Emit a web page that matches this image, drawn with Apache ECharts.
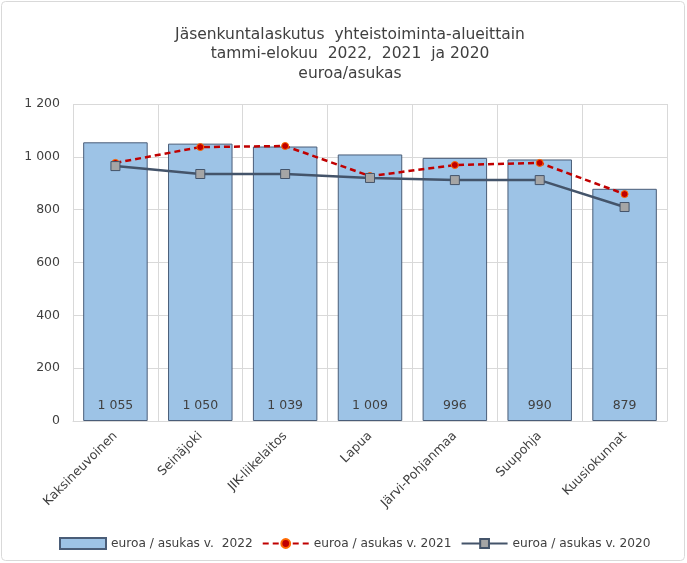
<!DOCTYPE html>
<html><head><meta charset="utf-8">
<script src="https://cdn.jsdelivr.net/npm/echarts@6/dist/echarts.min.js"></script>
<style>html,body{margin:0;padding:0;background:#fff}#c{width:687px;height:563px}</style>
</head><body><div id="c"></div>
<script>
const categories = ['Kaksineuvoinen','Seinäjoki','JIK-liikelaitos','Lapua','Järvi-Pohjanmaa','Suupohja','Kuusiokunnat'];
const values2022 = [1055,1050,1039,1009,996,990,879];
const values2021 = [977,1037,1041,927,969,977,859];
const values2020 = [965,935,935,920,912,912,810];
const titleLines = ['Jäsenkuntalaskutus  yhteistoiminta-alueittain','tammi-elokuu  2022,  2021  ja 2020','euroa/asukas'];
const seriesNames = ['euroa / asukas v.  2022','euroa / asukas v. 2021','euroa / asukas v. 2020'];

function fmt(v){ return String(v).replace(/\B(?=(\d{3})+(?!\d))/g,' '); }
const FONT = 'DejaVu Sans';
const chart = echarts.init(document.getElementById('c'));
chart.setOption({
  animation:false,
  textStyle:{fontFamily:FONT,color:'#404040'},
  graphic:[{type:'rect',shape:{x:1.5,y:1.5,width:683,height:559,r:4},style:{fill:'none',stroke:'#d9d9d9',lineWidth:1}}],
  title:{text:titleLines.join('\n'),left:345,top:20,textAlign:'center',
    textStyle:{fontFamily:FONT,fontSize:15.5,fontWeight:'normal',color:'#404040',lineHeight:19.5}},
  grid:{left:73,right:20,top:104,bottom:142},
  legend:{bottom:8,left:54,itemGap:9,itemWidth:46,itemHeight:11,
    textStyle:{fontFamily:FONT,fontSize:12.2,color:'#404040'},
    data:[{name:seriesNames[0],icon:'rect'},{name:seriesNames[1]},{name:seriesNames[2]}]},
  xAxis:{type:'category',data:categories,
    axisLine:{lineStyle:{color:'#d9d9d9'}},axisTick:{show:false},
    splitLine:{show:true,lineStyle:{color:'#d9d9d9'}},
    axisLabel:{rotate:45,fontSize:12.5,color:'#404040',interval:0,margin:13}},
  yAxis:{type:'value',min:0,max:1200,interval:200,
    axisLine:{show:false},axisTick:{show:false},
    splitLine:{lineStyle:{color:'#d9d9d9'}},
    axisLabel:{formatter:fmt,fontSize:12.5,color:'#404040',margin:13}},
  series:[
    {name:seriesNames[0],type:'bar',data:values2022,barCategoryGap:'24%',
     itemStyle:{color:'#9dc3e6',borderColor:'#4a5d78',borderWidth:1},
     label:{show:true,position:'insideBottom',distance:9,formatter:p=>fmt(p.value),fontSize:12.5,color:'#404040'}},
    {name:seriesNames[1],type:'line',data:values2021,symbol:'circle',symbolSize:7,z:3,
     lineStyle:{color:'#c00000',width:2.5,type:[6,4]},
     itemStyle:{color:'#c00000',borderColor:'#ff6a00',borderWidth:1}},
    {name:seriesNames[2],type:'line',data:values2020,symbol:'rect',symbolSize:9,z:4,
     lineStyle:{color:'#44546a',width:2.5},
     itemStyle:{color:'#a5a5a5',borderColor:'#44546a',borderWidth:1}}
  ]
});
</script></body></html>
